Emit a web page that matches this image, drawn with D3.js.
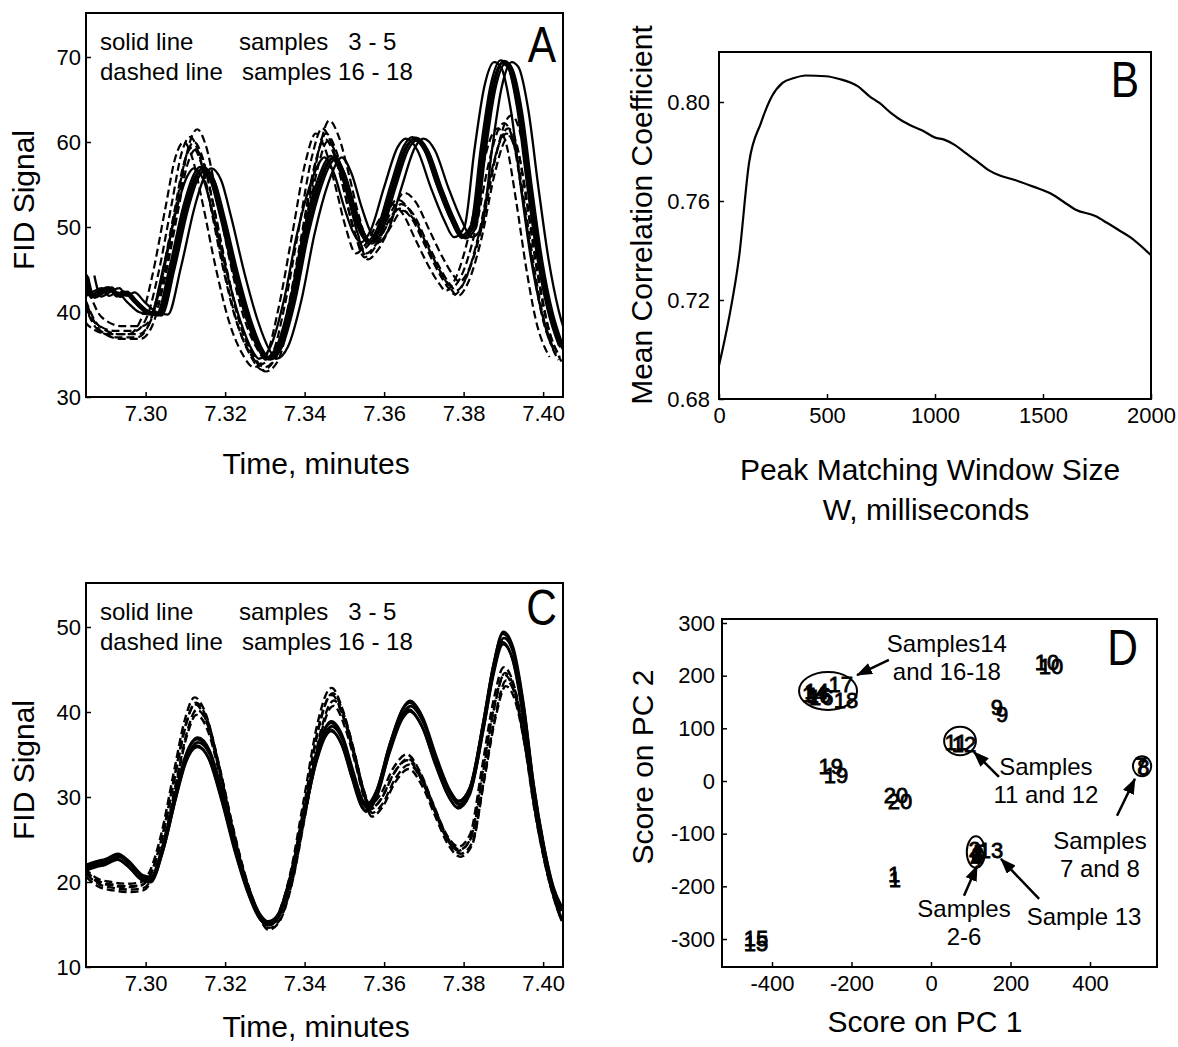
<!DOCTYPE html>
<html>
<head>
<meta charset="utf-8">
<script src="https://cdn.jsdelivr.net/npm/d3@7"></script>
<style>
body { margin: 0; background: #fff; }
text { font-family: "Liberation Sans", Arial, Helvetica, sans-serif; fill: #000; }
</style>
</head>
<body>
<div id="fig"></div>
<script>
// ---- panel A: raw chromatograms (time, FID signal) ----
var timeTicks = [7.30, 7.32, 7.34, 7.36, 7.38, 7.40];
var fidTicksA = [30, 40, 50, 60, 70];
var solidA = [[7.2849,44.3],[7.2866,41.8],[7.2890,42.4],[7.2912,42.8],[7.2930,41.9],[7.2950,42.3],[7.2975,41.2],[7.3005,40.0],[7.3034,39.7],[7.3067,45.3],[7.3101,52.3],[7.3126,55.9],[7.3143,56.9],[7.3168,55.5],[7.3193,51.2],[7.3227,44.5],[7.3260,39.0],[7.3290,35.5],[7.3307,34.5],[7.3336,35.9],[7.3370,41.4],[7.3403,49.2],[7.3437,55.1],[7.3462,57.8],[7.3471,58.2],[7.3496,56.3],[7.3521,52.4],[7.3546,49.2],[7.3563,48.2],[7.3588,49.6],[7.3622,54.7],[7.3656,59.4],[7.3677,60.4],[7.3706,59.0],[7.3739,54.7],[7.3773,50.8],[7.3798,48.8],[7.3824,50.0],[7.3849,59.0],[7.3874,66.5],[7.3899,69.4],[7.3916,68.8],[7.3941,63.7],[7.3966,54.7],[7.3992,46.1],[7.4017,40.2],[7.4046,35.9]];
var dashedA = [[7.2849,41.4],[7.2882,38.4],[7.2933,37.4],[7.2983,37.4],[7.3013,39.0],[7.3042,44.1],[7.3076,52.3],[7.3101,58.2],[7.3122,60.0],[7.3143,58.2],[7.3168,53.1],[7.3202,45.3],[7.3235,39.0],[7.3269,35.1],[7.3298,33.5],[7.3328,34.7],[7.3361,40.6],[7.3395,49.2],[7.3429,57.8],[7.3454,61.0],[7.3479,59.0],[7.3504,54.7],[7.3529,50.0],[7.3555,46.9],[7.3580,48.0],[7.3613,50.8],[7.3643,52.7],[7.3672,51.6],[7.3706,48.4],[7.3739,45.3],[7.3765,43.3],[7.3781,42.5],[7.3807,44.1],[7.3840,49.2],[7.3874,57.1],[7.3899,61.0],[7.3912,61.6],[7.3933,59.8],[7.3958,53.1],[7.3983,45.3],[7.4008,39.0],[7.4042,34.7]];
// replicate offsets: [time shift, height factor]
var solidRepsA = [[-0.0022,1.0],[-0.0006,1.003],[-0.0003,0.998],[0,1.0],[0.0003,1.002],[0.0006,0.997],[0.0022,1.0]];
var dashedRepsA = [[-0.0026,1.0],[-0.0010,1.01],[0,1.0],[0.0004,0.985],[0.0008,1.025],[-0.0004,0.99]];

// ---- panel B: mean correlation vs window size ----
var windowMs = [0,46,93,139,194,245,294,348,402,495,557,642,697,743,797,851,898,944,998,1045,1091,1146,1192,1246,1300,1370,1455,1540,1595,1649,1742,1796,1850,1905,2000];
var meanCorr = [0.6935,0.7125,0.7374,0.7753,0.7915,0.8023,0.8077,0.8097,0.8107,0.8104,0.8093,0.8064,0.8023,0.7996,0.7955,0.7922,0.7901,0.7884,0.7857,0.7847,0.7827,0.7791,0.7762,0.7726,0.7703,0.7685,0.7658,0.7628,0.7597,0.7566,0.7539,0.7512,0.7483,0.7453,0.7381];
var windowTicks = [0, 500, 1000, 1500, 2000];
var corrTicks = [0.68, 0.72, 0.76, 0.80];

// ---- panel C: aligned chromatograms ----
var fidTicksC = [10, 20, 30, 40, 50];
var solidC = [[7.2849,21.9],[7.2874,22.3],[7.2899,22.6],[7.2929,23.2],[7.2958,22.3],[7.2992,20.7],[7.3013,20.5],[7.3042,24.0],[7.3076,30.6],[7.3101,34.9],[7.3130,36.8],[7.3160,35.3],[7.3193,30.2],[7.3227,24.0],[7.3260,19.0],[7.3286,16.2],[7.3307,15.3],[7.3328,15.8],[7.3361,20.1],[7.3395,27.5],[7.3429,34.9],[7.3454,38.2],[7.3466,38.7],[7.3496,36.8],[7.3521,32.9],[7.3546,29.4],[7.3555,29.0],[7.3580,30.6],[7.3613,36.0],[7.3647,40.3],[7.3664,41.1],[7.3697,39.1],[7.3731,34.5],[7.3765,30.6],[7.3786,29.4],[7.3815,31.0],[7.3849,38.7],[7.3874,45.3],[7.3899,49.2],[7.3924,47.3],[7.3950,40.7],[7.3975,31.4],[7.4000,24.4],[7.4025,19.3],[7.4046,17.0]];
var dashedC = [[7.2849,21.3],[7.2882,20.1],[7.2916,19.7],[7.2958,19.5],[7.2992,19.7],[7.3013,20.9],[7.3042,25.2],[7.3076,32.9],[7.3101,38.4],[7.3126,41.1],[7.3155,39.1],[7.3185,33.7],[7.3218,26.7],[7.3252,20.5],[7.3286,16.2],[7.3307,14.9],[7.3332,15.7],[7.3366,20.5],[7.3400,29.0],[7.3437,38.4],[7.3462,41.9],[7.3471,42.2],[7.3500,39.5],[7.3525,35.3],[7.3550,30.6],[7.3567,28.7],[7.3593,29.8],[7.3626,32.9],[7.3660,34.5],[7.3693,32.5],[7.3727,28.7],[7.3760,25.2],[7.3790,23.8],[7.3819,25.2],[7.3849,32.9],[7.3878,40.7],[7.3904,44.6],[7.3929,42.6],[7.3954,36.8],[7.3979,29.0],[7.4004,22.8],[7.4034,17.4],[7.4046,15.8]];
var solidRepsC = [[0,1.0],[0.0002,0.99],[-0.0002,0.98],[0.0001,1.005],[0,0.975]];
var dashedRepsC = [[0,1.0],[0.0003,0.98],[-0.0003,1.015],[0.0002,0.965],[-0.0002,0.995]];

// ---- panel D: PCA scores ----
var scoreLabel = ['1','1','2','3','4','5','6','7','8','9','9','10','10','11','12','13','14','14','15','15','16','16','17','18','19','19','20','20'];
var scorePC1 = [-93,-91,110,118,114,122,116,528,534,166,179,292,302,63,83,151,-294,-288,-440,-440,-282,-276,-227,-214,-252,-239,-88,-78];
var scorePC2 = [-178,-186,-130,-140,-148,-135,-142,30,26,140,127,226,218,74,70,-131,165,170,-298,-309,163,158,184,154,27,11,-28,-38];
var pc1Ticks = [-400, -200, 0, 200, 400];
var pc2Ticks = [-300, -200, -100, 0, 100, 200, 300];
var ringCenter = [[-259,171],[73,76],[531,28],[113,-135]];
var ringRadius = [[73,36],[40,27],[23,19],[23,30]];
var noteText = [['Samples14','and 16-18'],['Samples','11 and 12'],['Samples','7 and 8'],['Samples','2-6'],['Sample 13']];
var notePos = [[40,245],[289,11],[425,-129],[83,-258],[385,-273]];
var arrowFrom = [[-106,230],[171,8],[468,-66],[83,-218],[272,-224]];
var arrowTo = [[-186,201],[108,55],[513,4],[116,-161],[176,-148]];

var svg = d3.select('#fig')
    .append('svg')
    .attr('width', 1178)
    .attr('height', 1047)
    .style('background', '#fff');

var defs = svg.append('defs');
defs.append('marker')
    .attr('id', 'head')
    .attr('viewBox', '0 0 16 12')
    .attr('refX', 15).attr('refY', 6)
    .attr('markerUnits', 'userSpaceOnUse')
    .attr('markerWidth', 16).attr('markerHeight', 12)
    .attr('orient', 'auto')
    .append('path').attr('d', 'M0,0 L16,6 L0,12 Z').attr('fill', '#000');

function frame(box) {
    svg.append('rect')
        .attr('x', box[0]).attr('y', box[1])
        .attr('width', box[2] - box[0]).attr('height', box[3] - box[1])
        .attr('fill', 'none').attr('stroke', '#000').attr('stroke-width', 2);
}

function axes(x, y, box, xTicks, yTicks, xFmt, yFmt, yPad) {
    var gx = svg.append('g').attr('transform', `translate(0,${box[3]})`)
        .call(d3.axisBottom(x).tickValues(xTicks).tickFormat(xFmt).tickSize(-5).tickPadding(8));
    var gy = svg.append('g').attr('transform', `translate(${box[0]},0)`)
        .call(d3.axisLeft(y).tickValues(yTicks).tickFormat(yFmt).tickSize(-5).tickPadding(yPad));
    [gx, gy].forEach(g => {
        g.select('.domain').remove();
        g.selectAll('line').attr('stroke', '#000').attr('stroke-width', 1.5);
        g.selectAll('text').style('font-size', '22px').attr('fill', '#000');
    });
}

function title(txt, x, y, rot) {
    svg.append('text')
        .attr('transform', `translate(${x},${y})` + (rot ? 'rotate(-90)' : ''))
        .attr('text-anchor', 'middle')
        .style('font-size', '30px')
        .text(txt);
}

function letter(txt, x, y) {
    svg.append('text')
        .attr('transform', `translate(${x},${y})scale(0.85,1)`)
        .attr('text-anchor', 'end')
        .style('font-size', '50px')
        .text(txt);
}

function legend(box) {
    var rows = [['solid line', 'samples   3 - 5'], ['dashed line', 'samples 16 - 18']];
    rows.forEach((r, i) => {
        svg.append('text').attr('x', box[0] + 14).attr('y', box[1] + 37 + i * 30)
            .style('font-size', '24px').text(r[0]);
        svg.append('text').attr('x', box[0] + 153 + (i ? 3 : 0)).attr('y', box[1] + 37 + i * 30)
            .style('font-size', '24px').attr('xml:space', 'preserve').text(r[1]);
    });
}

function traces(id, x, y, box, base, reps, dash, w) {
    var g = svg.append('g').attr('clip-path', `url(#${id})`);
    var line = d3.line().curve(d3.curveMonotoneX).x(d => x(d[0])).y(d => y(d[1]));
    reps.forEach(r => {
        g.append('path')
            .datum(base.map(p => [p[0] + r[0], p[1] * r[1]]))
            .attr('d', line)
            .attr('fill', 'none')
            .attr('stroke', '#000')
            .attr('stroke-width', w)
            .attr('stroke-dasharray', dash);
    });
}

function clip(id, box) {
    defs.append('clipPath').attr('id', id).append('rect')
        .attr('x', box[0]).attr('y', box[1])
        .attr('width', box[2] - box[0]).attr('height', box[3] - box[1]);
}

var fmt2 = d3.format('.2f');

// ---- A ----
var boxA = [86, 13, 563, 397];
var xA = d3.scaleLinear().domain([7.285, 7.405]).range([86, 563]);
var yA = d3.scaleLinear().domain([30, 70]).range([397, 57]);
clip('clipA', boxA);
traces('clipA', xA, yA, boxA, dashedA, dashedRepsA, '8,4', 2.2);
traces('clipA', xA, yA, boxA, solidA, solidRepsA, null, 2.3);
frame(boxA);
axes(xA, yA, boxA, timeTicks, fidTicksA, fmt2, d3.format('d'), 5);
legend(boxA);
letter('A', 556, 62);
title('Time, minutes', 316, 474);
title('FID Signal', 34, 200, true);

// ---- B ----
var boxB = [719, 52, 1151, 399];
var xB = d3.scaleLinear().domain([0, 2000]).range([719, 1151]);
var yB = d3.scaleLinear().domain([0.68, 0.80]).range([399, 102]);
svg.append('path')
    .datum(windowMs.map((w, i) => [w, meanCorr[i]]))
    .attr('d', d3.line().curve(d3.curveMonotoneX).x(d => xB(d[0])).y(d => yB(d[1])))
    .attr('fill', 'none').attr('stroke', '#000').attr('stroke-width', 2.2);
frame(boxB);
axes(xB, yB, boxB, windowTicks, corrTicks, d3.format('d'), fmt2, 9);
letter('B', 1139, 97);
title('Mean Correlation Coefficient', 652, 215, true);
title('Peak Matching Window Size', 930, 480);
title('W, milliseconds', 926, 520);

// ---- C ----
var boxC = [86, 583, 563, 967];
var xC = d3.scaleLinear().domain([7.285, 7.405]).range([86, 563]);
var yC = d3.scaleLinear().domain([10, 50]).range([967, 627]);
clip('clipC', boxC);
traces('clipC', xC, yC, boxC, dashedC, dashedRepsC, '8,4', 2.4);
traces('clipC', xC, yC, boxC, solidC, solidRepsC, null, 2.6);
frame(boxC);
axes(xC, yC, boxC, timeTicks, fidTicksC, fmt2, d3.format('d'), 5);
legend(boxC);
letter('C', 557, 625);
title('Time, minutes', 316, 1037);
title('FID Signal', 34, 770, true);

// ---- D ----
var boxD = [722, 619, 1157, 967];
var xD = d3.scaleLinear().domain([-400, 400]).range([772, 1090]);
var yD = d3.scaleLinear().domain([-300, 300]).range([939, 623]);
frame(boxD);
axes(xD, yD, boxD, pc1Ticks, pc2Ticks, d => String(d), d => String(d), 7);

svg.append('g').selectAll('ellipse').data(ringCenter).enter().append('ellipse')
    .attr('cx', d => xD(d[0])).attr('cy', d => yD(d[1]))
    .attr('rx', (d, i) => xD(d[0] + ringRadius[i][0]) - xD(d[0]))
    .attr('ry', (d, i) => yD(d[1]) - yD(d[1] + ringRadius[i][1]))
    .attr('fill', 'none').attr('stroke', '#000').attr('stroke-width', 2);

svg.append('g').selectAll('text').data(scoreLabel).enter().append('text')
    .attr('x', (d, i) => xD(scorePC1[i])).attr('y', (d, i) => yD(scorePC2[i]))
    .attr('text-anchor', 'middle').attr('dy', '0.35em')
    .style('font-size', '22px')
    .attr('stroke', '#000').attr('stroke-width', 0.8)
    .text(d => d);

noteText.forEach((lines, i) => {
    lines.forEach((t, j) => {
        svg.append('text')
            .attr('x', xD(notePos[i][0])).attr('y', yD(notePos[i][1]) + j * 28)
            .attr('text-anchor', 'middle')
            .style('font-size', '24px')
            .text(t);
    });
    svg.append('line')
        .attr('x1', xD(arrowFrom[i][0])).attr('y1', yD(arrowFrom[i][1]))
        .attr('x2', xD(arrowTo[i][0])).attr('y2', yD(arrowTo[i][1]))
        .attr('stroke', '#000').attr('stroke-width', 2.5)
        .attr('marker-end', 'url(#head)');
});

letter('D', 1138, 665);
title('Score on PC 2', 653, 767, true);
title('Score on PC 1', 925, 1032);
</script>
</body>
</html>
